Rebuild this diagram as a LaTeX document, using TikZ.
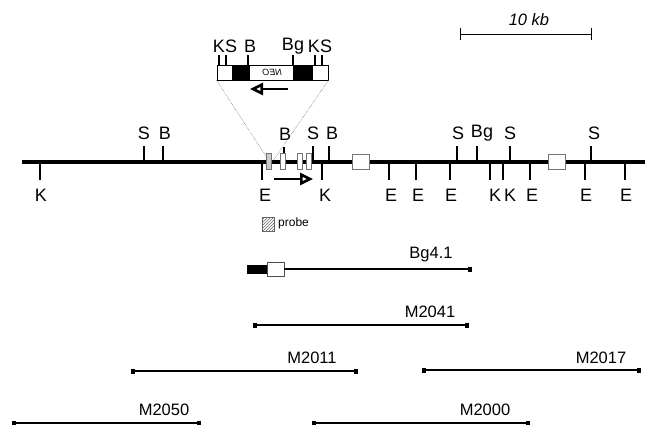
\documentclass[tikz,border=0pt]{standalone}
\usepackage{fontspec}
\setmainfont{Liberation Sans}
\usetikzlibrary{arrows.meta,patterns}
\tikzset{
  lab/.style={inner sep=0pt,font=\fontsize{16.5}{17}\selectfont},
  sitelab/.style={inner sep=0pt,font=\fontsize{18}{19}\selectfont},
  mainline/.style={line width=3.1pt},
  tick/.style={line width=2.6pt},
  smalltick/.style={line width=2pt},
  exon/.style={draw=black!55,fill=white,line width=0.7pt,inner sep=0pt},
  wbox/.style={draw=black,fill=white,line width=0.7pt,inner sep=0pt},
  bbox/.style={draw=black,fill=black,inner sep=0pt},
  clone/.style={line width=1.5pt,{Square[length=4pt,width=5pt]}-{Square[length=4pt,width=5pt]}},
  guide/.style={densely dotted,line width=0.5pt,black!65},
  dir/.style={line width=2.6pt,-{Triangle[open,length=13pt,width=12pt,line width=2.6pt]}}
}
\begin{document}
\begin{tikzpicture}[x=1pt,y=-1pt]
\useasboundingbox (0,0) rectangle (645,425);
% scale bar
\coordinate (sa) at (460,34); \coordinate (sb) at (591,34);
\draw[line width=0.7pt] (sa) -- (sb);
\draw[line width=0.7pt] (460,28) -- (460,40) (591,28) -- (591,40);
\node[lab,font=\fontsize{16.5}{17}\selectfont\itshape] (kb) at (529,20) {10 kb};
% main line
\coordinate (m0) at (22,162); \coordinate (m1) at (645,162);
\draw[mainline] (m0) -- (m1);
% ticks above
\foreach \n/\x/\lx/\l in {a/144/144/S,b/163/165/B,c/313/313/S,d/329/332/B,e/457/458/S,f/477/482/Bg,g/510/510/S,h/591/594/S}{
  \coordinate (u\n) at (\x,162); \coordinate (ut\n) at (\x,146);
  \draw[tick] (u\n) -- (ut\n);
  \node[sitelab] (ul\n) at (\lx,133.5) {\l};
}
\coordinate (ubi) at (284,153); \coordinate (ubt) at (284,147);
\draw[tick] (ubi) -- (ubt);
\node[sitelab] (ubl) at (285,134) {B};
% ticks below
\foreach \n/\x/\l/\lx in {a/40/K/41,b/262/E/265,c/322/K/325,d/389/E/391,e/416/E/418,f/450/E/451,g/490/K/495,h/503/K/510,i/530/E/532,j/585/E/586,k/625/E/626}{
  \coordinate (d\n) at (\x,162); \coordinate (dt\n) at (\x,180);
  \draw[tick] (d\n) -- (dt\n);
  \node[sitelab] (dl\n) at (\lx,195.5) {\l};
}
% dotted guides
\coordinate (conv) at (271,164);
% insert
\node[wbox,minimum width=15pt,minimum height=15pt] (i1) at (224.5,72.5) {};
\node[bbox,minimum width=17pt,minimum height=15pt] (i2) at (240.5,72.5) {};
\node[wbox,minimum width=44pt,minimum height=15pt] (i3) at (271,72.5) {};
\node[bbox,minimum width=19pt,minimum height=15pt] (i4) at (302.5,72.5) {};
\node[wbox,minimum width=16pt,minimum height=15pt] (i5) at (320,72.5) {};
\node[inner sep=0pt,xscale=-1,font=\fontsize{9}{10}\selectfont\itshape] (neo) at (272,72.5) {NEO};
\draw[guide] (i1.south west) -- (conv);
\draw[guide] (i5.south east) -- (conv);
\foreach \n/\x in {a/219,b/226,c/248,d/293,e/315,f/322}{
  \coordinate (it\n) at (\x,55); \coordinate (ib\n) at (\x,65);
  \draw[smalltick] (it\n) -- (ib\n);
}
\node[sitelab] (lk1) at (225,46.5) {KS};
\node[sitelab] (lb1) at (250,46.5) {B};
\node[sitelab] (lb2) at (293,46.5) {Bg};
\node[sitelab] (lk2) at (320,46.5) {KS};
\coordinate (ia) at (288,89); \coordinate (ib) at (250,89);
\draw[dir] (ia) -- (ib);
% exons
\node[exon,fill=black!20,minimum width=5pt,minimum height=16pt] (x1) at (268.5,161) {};
\node[exon,minimum width=5.5pt,minimum height=16pt] (x2) at (283,161) {};
\node[exon,minimum width=5pt,minimum height=16pt] (x3) at (299.5,161) {};
\node[exon,minimum width=5pt,minimum height=16pt] (x4) at (308.5,161) {};
\node[exon,minimum width=17pt,minimum height=15pt] (x5) at (360.5,161.5) {};
\node[exon,minimum width=17pt,minimum height=15pt] (x6) at (556.5,161.5) {};
\coordinate (aa) at (274,179); \coordinate (ab) at (313,179);
\draw[dir] (aa) -- (ab);
% probe
\node[draw=black!60,line width=0.5pt,pattern=north east lines,pattern color=black!60,minimum width=12pt,minimum height=14pt,inner sep=0pt] (pb) at (268,224) {};
\node[inner sep=0pt,anchor=west,font=\fontsize{12}{13}\selectfont] (pt) at (278,223) {probe};
% Bg4.1
\node[bbox,minimum width=20pt,minimum height=8pt] (gb) at (257,269) {};
\node[wbox,draw=black!70,minimum width=17pt,minimum height=14pt] (gw) at (275.5,269) {};
\coordinate (ge) at (472,269);
\draw[line width=1.5pt,-{Square[length=4pt,width=5pt]}] (gw.east) -- (ge);
\node[lab] (gl) at (431,255) {Bg4.1};
% clones
\foreach \n/\a/\b/\y/\lx/\ly/\l in {p/253/469/325/430/312/M2041,q/131/358/371/312/358/M2011,r/422/641/370/601/358/M2017,s/12/201/423/164/410/M2050,t/312/530/423/485/410/M2000}{
  \coordinate (c\n a) at (\a,\y); \coordinate (c\n b) at (\b,\y);
  \draw[clone] (c\n a) -- (c\n b);
  \node[lab] (c\n l) at (\lx,\ly) {\l};
}
\end{tikzpicture}
\end{document}
